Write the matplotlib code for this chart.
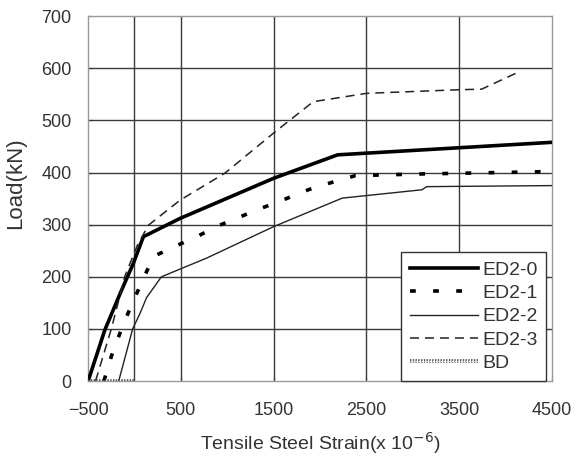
import matplotlib.pyplot as plt
import matplotlib.patheffects as pe

plt.rcParams['font.family'] = ['Liberation Sans', 'DejaVu Sans']

# strain (x 10^-6) and load (kN)
ed20_x = [-500, -320, -150, -12, 96, 491, 1500, 2190, 4500]
ed20_y = [0, 98, 170, 226, 277, 312, 389, 434, 458]

ed21_x = [-330, -245, -150, -40, 80, 204, 419, 671, 904, 1138, 1389, 1623, 1874, 2126, 2380, 3000, 4500]
ed21_y = [0, 50, 95, 143, 190, 239, 257, 277, 298, 315, 333, 349, 367, 381, 394, 397, 402]

ed22_x = [-170, -20, 60, 130, 290, 779, 1497, 2240, 3100, 3150, 4500]
ed22_y = [0, 100, 130, 160, 200, 236, 296, 351, 367, 373, 375]

ed23_x = [-420, -250, -100, 30, 150, 491, 976, 1515, 1928, 2503, 3509, 3743, 4119]
ed23_y = [0, 100, 203, 260, 299, 347, 399, 478, 536, 552, 559, 560, 591]

bd_x = [-500, 0]
bd_y = [1, 1]

x_ticks = [-500, 500, 1500, 2500, 3500, 4500]
x_grid = [0, 500, 1500, 2500, 3500]
y_ticks = [0, 100, 200, 300, 400, 500, 600, 700]

fig = plt.figure(figsize=(5.76, 4.63), dpi=100)
ax = fig.add_axes([0.153, 0.177, 0.805, 0.788])

for g in x_grid:
    ax.axvline(g, color='#3a3a3a', lw=1.0, zorder=1)
for g in y_ticks[1:-1]:
    ax.axhline(g, color='#3a3a3a', lw=1.0, zorder=1)

ax.plot(ed20_x, ed20_y, color='black', lw=2.6, label='ED2-0', zorder=3)
ax.plot(ed21_x, ed21_y, color='black', lw=2.6, linestyle=(0, (1.6, 4.8)),
        label='ED2-1', zorder=3)
ax.plot(ed22_x, ed22_y, color='#222222', lw=1.0, label='ED2-2', zorder=3)
ax.plot(ed23_x, ed23_y, color='#222222', lw=1.1, linestyle=(0, (5.9, 3.9)),
        label='ED2-3', zorder=3)
ax.plot(bd_x, bd_y, color='white', lw=1.0, linestyle=(0, (1, 1)), label='BD', zorder=3,
        path_effects=[pe.Stroke(linewidth=2.6, foreground='#444444'), pe.Normal()])

ax.set_xlim(-500, 4500)
ax.set_ylim(0, 700)
ax.set_xticks(x_ticks)
ax.set_yticks(y_ticks)
ax.tick_params(labelsize=13, length=3, direction='in', colors='#333333',
               labelcolor='#333333')
ax.tick_params(axis='x', pad=15)
ax.tick_params(axis='y', pad=12)
for s in ax.spines.values():
    s.set_color('#999999')
    s.set_linewidth(1.0)

ax.set_xlabel('Tensile Steel Strain(x 10$^{-6}$)', fontsize=14, color='#333333', labelpad=8)
ax.set_ylabel('Load(kN)', fontsize=16, color='#333333')
ax.yaxis.set_label_coords(-0.134, 0.542)

leg = ax.legend(loc='lower right', fontsize=14, frameon=True, fancybox=False,
                edgecolor='#333333', framealpha=1, handlelength=3.5,
                handletextpad=0.2, labelspacing=0.3, borderpad=0.45,
                borderaxespad=0, bbox_to_anchor=(0.988, 0.0))
leg.get_frame().set_linewidth(1.0)
for t in leg.get_texts():
    t.set_color('#333333')

fig.savefig('out.png', dpi=100)
